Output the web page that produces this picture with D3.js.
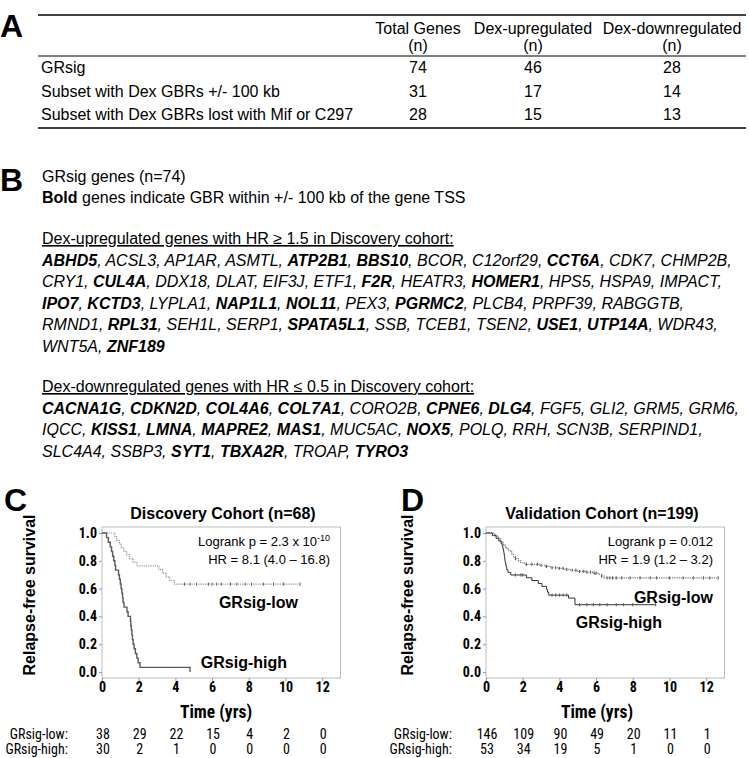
<!DOCTYPE html>
<html><head><meta charset="utf-8">
<script src="https://cdn.jsdelivr.net/npm/d3@7"></script>
<style>body{margin:0;background:#fff} svg{display:block} text{white-space:pre}</style>
</head><body>
<script>
// ---------------- DATA ----------------
const tableHeaders = [["Total Genes", "(n)"], ["Dex-upregulated", "(n)"], ["Dex-downregulated", "(n)"]];
const tableRowLabels = ["GRsig", "Subset with Dex GBRs +/- 100 kb", "Subset with Dex GBRs lost with Mif or C297"];
const totalGenes = [74, 31, 28];
const dexUpCounts = [46, 17, 15];
const dexDownCounts = [28, 14, 13];

const upGeneLines = [
  ["ABHD5","ACSL3","AP1AR","ASMTL","ATP2B1","BBS10","BCOR","C12orf29","CCT6A","CDK7","CHMP2B"],
  ["CRY1","CUL4A","DDX18","DLAT","EIF3J","ETF1","F2R","HEATR3","HOMER1","HPS5","HSPA9","IMPACT"],
  ["IPO7","KCTD3","LYPLA1","NAP1L1","NOL11","PEX3","PGRMC2","PLCB4","PRPF39","RABGGTB"],
  ["RMND1","RPL31","SEH1L","SERP1","SPATA5L1","SSB","TCEB1","TSEN2","USE1","UTP14A","WDR43"],
  ["WNT5A","ZNF189"]
];
const downGeneLines = [
  ["CACNA1G","CDKN2D","COL4A6","COL7A1","CORO2B","CPNE6","DLG4","FGF5","GLI2","GRM5","GRM6"],
  ["IQCC","KISS1","LMNA","MAPRE2","MAS1","MUC5AC","NOX5","POLQ","RRH","SCN3B","SERPIND1"],
  ["SLC4A4","SSBP3","SYT1","TBXA2R","TROAP","TYRO3"]
];
const boldGenes = ["ABHD5","ATP2B1","BBS10","CCT6A","CUL4A","F2R","HOMER1","IPO7","KCTD3","NAP1L1","NOL11",
  "PGRMC2","RPL31","SPATA5L1","USE1","UTP14A","ZNF189",
  "CACNA1G","CDKN2D","COL4A6","COL7A1","CPNE6","DLG4","KISS1","LMNA","MAPRE2","MAS1","NOX5","SYT1","TBXA2R","TYRO3"];

const timeTicks = [0, 2, 4, 6, 8, 10, 12];
const survTicks = [0, 0.2, 0.4, 0.6, 0.8, 1.0];

// Discovery cohort (Kaplan-Meier steps: [time, survival])
const discLowSteps = [[0,1],[0.70,0.974],[0.80,0.947],[0.95,0.921],[1.05,0.895],[1.20,0.868],[1.35,0.842],[1.50,0.816],[1.70,0.789],[1.90,0.763],[3.10,0.737],[3.30,0.710],[3.50,0.684],[3.70,0.658],[3.95,0.632]];
const discLowEnd = 10.8;
const discLowCensor = [4.5,4.8,5.15,5.8,6.0,6.25,6.5,7.0,7.35,7.8,8.15,8.8,9.35,9.9,10.8];
const discHighSteps = [[0,1],[0.25,0.967],[0.35,0.933],[0.45,0.900],[0.52,0.867],[0.58,0.833],[0.64,0.800],[0.70,0.767],[0.74,0.733],[0.90,0.700],[0.95,0.667],[1.00,0.633],[1.04,0.600],[1.08,0.567],[1.12,0.533],[1.15,0.500],[1.20,0.467],[1.36,0.433],[1.42,0.400],[1.55,0.367],[1.57,0.333],[1.60,0.300],[1.63,0.267],[1.66,0.233],[1.70,0.200],[1.75,0.167],[1.82,0.133],[1.90,0.100],[1.97,0.067],[2.07,0.033],[4.80,0]];
const discHighEnd = 4.8;
const discHighCensor = [];
const discAtRiskLow = [38, 29, 22, 15, 4, 2, 0];
const discAtRiskHigh = [30, 2, 1, 0, 0, 0, 0];

// Validation cohort
const valLowSteps = [[0,1],[0.40,0.993],[0.50,0.986],[0.60,0.972],[0.70,0.958],[0.80,0.944],[0.88,0.930],[0.95,0.917],[1.05,0.900],[1.13,0.886],[1.25,0.872],[1.40,0.850],[1.50,0.830],[1.60,0.815],[1.77,0.800],[1.90,0.786],[2.10,0.775],[2.90,0.768],[3.20,0.760],[3.50,0.750],[3.90,0.745],[4.30,0.738],[4.60,0.732],[5.00,0.724],[5.40,0.718],[5.80,0.711],[6.10,0.703],[6.30,0.690],[6.45,0.677]];
const valLowEnd = 12.66;
const valLowCensor = [1.6,2.2,2.5,2.8,3.0,3.3,3.6,3.8,4.0,4.2,4.4,4.7,4.9,5.1,5.3,5.5,5.7,5.9,6.0,6.3,6.6,6.75,6.9,7.1,7.4,7.85,8.4,8.95,9.3,10.0,10.75,11.3,11.85,12.2,12.66];
const valHighSteps = [[0,1],[0.35,0.981],[0.55,0.962],[0.70,0.943],[0.82,0.925],[0.88,0.906],[0.92,0.887],[0.95,0.868],[0.98,0.849],[1.00,0.830],[1.02,0.811],[1.04,0.792],[1.07,0.774],[1.10,0.755],[1.13,0.736],[1.20,0.717],[1.35,0.698],[2.20,0.678],[2.50,0.658],[2.85,0.637],[3.05,0.616],[3.30,0.594],[3.35,0.574],[3.42,0.553],[4.50,0.532],[4.85,0.484]];
const valHighEnd = 9.25;
const valHighCensor = [1.6,1.9,2.0,3.6,3.8,4.0,4.2,4.4,5.1,5.5,5.85,6.2,6.6,7.1,7.5,8.0,9.25];
const valAtRiskLow = [146, 109, 90, 49, 20, 11, 1];
const valAtRiskHigh = [53, 34, 19, 5, 1, 0, 0];

// ---------------- DRAW ----------------
const W = 749, H = 758;
const FONT = '"Liberation Sans", Arial, Helvetica, sans-serif';
const NARROW = '"Roboto Condensed", "Liberation Sans", Arial, sans-serif';
const svg = d3.select("body").append("svg").attr("width", W).attr("height", H)
  .style("font-family", FONT).attr("fill", "#000");

function panelLetter(t, x, y) {
  svg.append("text").attr("x", x).attr("y", y).attr("font-size", 32).attr("font-weight", "bold").text(t);
}

// ---- Panel A: table ----
panelLetter("A", 0, 37);
const colX = d3.scaleOrdinal().domain([0, 1, 2]).range([418, 533, 672]);
const rowY = d3.scalePoint().domain(d3.range(tableRowLabels.length)).range([73, 120]);
const gA = svg.append("g").attr("font-size", 16);
gA.append("line").attr("x1", 38).attr("x2", 746).attr("y1", 15).attr("y2", 15).attr("stroke", "#000").attr("stroke-width", 1.6);
gA.append("line").attr("x1", 38).attr("x2", 746).attr("y1", 56).attr("y2", 56).attr("stroke", "#000").attr("stroke-width", 1);
gA.append("line").attr("x1", 38).attr("x2", 746).attr("y1", 128).attr("y2", 128).attr("stroke", "#000").attr("stroke-width", 1.4);
tableHeaders.forEach((h, i) => {
  h.forEach((line, j) => {
    gA.append("text").attr("x", colX(i)).attr("y", 34 + j * 17).attr("text-anchor", "middle").text(line);
  });
});
tableRowLabels.forEach((lab, r) => {
  gA.append("text").attr("x", 41).attr("y", rowY(r)).text(lab);
  [totalGenes, dexUpCounts, dexDownCounts].forEach((arr, c) => {
    gA.append("text").attr("x", colX(c)).attr("y", rowY(r)).attr("text-anchor", "middle").text(arr[r]);
  });
});

// ---- Panel B: gene lists ----
panelLetter("B", 0, 191);
const gB = svg.append("g").attr("font-size", 16);
const bx = 42, lh = 21.5;
gB.append("text").attr("x", bx).attr("y", 182).text("GRsig genes (n=74)");
const t2 = gB.append("text").attr("x", bx).attr("y", 203);
t2.append("tspan").attr("font-weight", "bold").text("Bold");
t2.append("tspan").text(" genes indicate GBR within +/- 100 kb of the gene TSS");

function geneBlock(headerText, lines, y0) {
  gB.append("text").attr("x", bx).attr("y", y0).attr("text-decoration", "underline").text(headerText);
  const total = lines.reduce((a, l) => a + l.length, 0);
  let k = 0;
  lines.forEach((line, li) => {
    const t = gB.append("text").attr("x", bx).attr("y", y0 + (li + 1) * lh).attr("font-style", "italic");
    line.forEach((g, gi) => {
      k++;
      t.append("tspan").attr("font-weight", boldGenes.includes(g) ? "bold" : "normal").text(g);
      if (k < total) t.append("tspan").text(gi < line.length - 1 ? ", " : ",");
    });
  });
}
geneBlock("Dex-upregulated genes with HR \u2265 1.5 in Discovery cohort:", upGeneLines, 244);
geneBlock("Dex-downregulated genes with HR \u2264 0.5 in Discovery cohort:", downGeneLines, 392);

// ---- Panels C & D: Kaplan-Meier ----
const yS = d3.scaleLinear().domain([0, 1]).range([672, 533]);
const boxTop = 527, boxBot = 678;

function survAt(steps, t) {
  let s = 1;
  for (const [ti, si] of steps) if (ti <= t) s = si;
  return s;
}

function drawKM(cfg) {
  const x = d3.scaleLinear().domain([0, 13]).range([cfg.x0, cfg.x0 + 238.5]);
  const g = svg.append("g");
  g.append("rect").attr("x", x(0)).attr("y", boxTop).attr("width", x(13) - x(0)).attr("height", boxBot - boxTop)
    .attr("fill", "none").attr("stroke", "#bdbdbd").attr("stroke-width", 1);

  const yAxis = g.append("g").attr("transform", `translate(${x(0)},0)`)
    .call(d3.axisLeft(yS).tickValues(survTicks).tickFormat(d3.format(".1f")).tickSize(3).tickPadding(2));
  const xAxis = g.append("g").attr("transform", `translate(0,${boxBot})`)
    .call(d3.axisBottom(x).tickValues(timeTicks).tickSize(3).tickPadding(1));
  [yAxis, xAxis].forEach(a => {
    a.select(".domain").remove();
    a.attr("font-size", null).attr("font-family", null);
    a.selectAll(".tick line").attr("stroke", "#999");
    a.selectAll(".tick text").attr("font-size", 14).attr("font-weight", "bold").attr("fill", "#000")
      .style("font-family", NARROW);
  });

  const line = d3.line().x(d => x(d[0])).y(d => yS(d[1])).curve(d3.curveStepAfter);
  function curve(steps, end, censor, color, dash, width) {
    const pts = steps.concat([[end, steps[steps.length - 1][1]]]);
    g.append("path").attr("d", line(pts)).attr("fill", "none").attr("stroke", color)
      .attr("stroke-width", width).attr("stroke-dasharray", dash);
    g.selectAll(null).data(censor).enter().append("line")
      .attr("x1", d => x(d)).attr("x2", d => x(d))
      .attr("y1", d => yS(survAt(steps, d)) - 1.6).attr("y2", d => yS(survAt(steps, d)) + 1.6)
      .attr("stroke", cfg.censorColor).attr("stroke-width", 1);
  }
  curve(cfg.low, cfg.lowEnd, cfg.lowCensor, cfg.lowColor, "1.2,1", 1.2);
  curve(cfg.high, cfg.highEnd, cfg.highCensor, cfg.highColor, null, cfg.highWidth);

  // title
  g.append("text").attr("x", cfg.titleX).attr("y", 519).attr("text-anchor", "middle")
    .attr("font-size", 16).attr("font-weight", "bold").text(cfg.title);
  // y label
  g.append("text").attr("transform", `translate(${cfg.yLabX},595) rotate(-90)`).attr("text-anchor", "middle")
    .attr("font-size", 16).attr("font-weight", "bold").text("Relapse-free survival");
  // x label
  g.append("text").attr("x", cfg.xLabX).attr("y", 718).attr("text-anchor", "middle")
    .attr("font-size", 17.5).attr("font-weight", "bold").style("font-family", NARROW).text("Time (yrs)");
  // stats
  const s1 = g.append("text").attr("x", x(0) + cfg.statsDX).attr("y", 546).attr("text-anchor", "end").attr("font-size", 13);
  s1.append("tspan").text(cfg.stat1);
  if (cfg.stat1sup) s1.append("tspan").attr("dy", -5).attr("font-size", 9).text(cfg.stat1sup);
  g.append("text").attr("x", x(0) + cfg.statsDX).attr("y", 563.5).attr("text-anchor", "end").attr("font-size", 13).text(cfg.stat2);
  // curve labels
  g.append("text").attr("x", x(0) + cfg.lowLab[0]).attr("y", cfg.lowLab[1]).attr("text-anchor", "end")
    .attr("font-size", 16).attr("font-weight", "bold").text("GRsig-low");
  g.append("text").attr("x", x(0) + cfg.highLab[0]).attr("y", cfg.highLab[1]).attr("text-anchor", "end")
    .attr("font-size", 16).attr("font-weight", "bold").text("GRsig-high");
  // numbers at risk
  const rows = [["GRsig-low:", cfg.riskLow, 739], ["GRsig-high:", cfg.riskHigh, 754]];
  rows.forEach(([lab, vals, yy]) => {
    g.append("text").attr("x", x(0) - 34).attr("y", yy).attr("text-anchor", "end").attr("font-size", 14)
      .style("font-family", NARROW).text(lab);
    g.selectAll(null).data(vals).enter().append("text")
      .attr("x", (d, i) => x(timeTicks[i]) + 1).attr("y", yy).attr("text-anchor", "middle").attr("font-size", 14)
      .style("font-family", NARROW).text(d => d);
  });
}

panelLetter("C", 4, 511);
drawKM({
  x0: 102, title: "Discovery Cohort (n=68)", titleX: 223, yLabX: 35, xLabX: 216,
  low: discLowSteps, lowEnd: discLowEnd, lowCensor: discLowCensor, lowColor: "#9a9a9a",
  high: discHighSteps, highEnd: discHighEnd, highCensor: discHighCensor, highColor: "#5a5a5a", highWidth: 1.4,
  censorColor: "#666",
  stat1: "Logrank p = 2.3 x 10", stat1sup: "-10", stat2: "HR = 8.1 (4.0 \u2013 16.8)", statsDX: 228,
  lowLab: [196, 608], highLab: [185, 668],
  riskLow: discAtRiskLow, riskHigh: discAtRiskHigh
});
panelLetter("D", 401, 511);
drawKM({
  x0: 486, title: "Validation Cohort (n=199)", titleX: 602, yLabX: 413, xLabX: 597,
  low: valLowSteps, lowEnd: valLowEnd, lowCensor: valLowCensor, lowColor: "#777",
  high: valHighSteps, highEnd: valHighEnd, highCensor: valHighCensor, highColor: "#333", highWidth: 1,
  censorColor: "#555",
  stat1: "Logrank p = 0.012", stat1sup: null, stat2: "HR = 1.9 (1.2 \u2013 3.2)", statsDX: 227,
  lowLab: [227, 603], highLab: [176, 628],
  riskLow: valAtRiskLow, riskHigh: valAtRiskHigh
});
</script>
</body></html>
